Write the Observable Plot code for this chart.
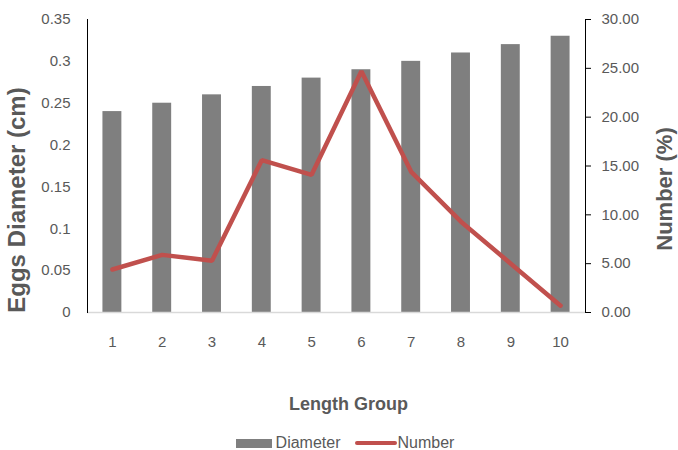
<!DOCTYPE html>
<html>
<head>
<meta charset="utf-8">
<script src="https://cdn.jsdelivr.net/npm/d3@7"></script>
<script src="https://cdn.jsdelivr.net/npm/@observablehq/plot@0.6"></script>
<style>
  body { margin: 0; background: #fff; font-family: "Liberation Sans", Arial, sans-serif; }
  #chart { position: relative; width: 678px; height: 450px; }
  #chart svg { position: absolute; left: 0; top: 0; background: transparent; overflow: visible; }
  #legend { position: absolute; left: 6px; top: 434px; width: 678px; display: flex; justify-content: center;
            align-items: center; font-size: 16px; color: #595959; }
  .sw-bar { display: inline-block; width: 36px; height: 9px; background: #7f7f7f; margin-right: 4px; }
  .sw-line { display: inline-block; width: 42px; height: 4px; background: #c0504d; border-radius: 2px; margin: 0 1px 0 14px; }
</style>
</head>
<body>
<div id="chart">
  <div id="legend"><span class="sw-bar"></span>Diameter<span class="sw-line"></span>Number</div>
</div>
<script>
// Length groups and the two measured series
const groups = [1, 2, 3, 4, 5, 6, 7, 8, 9, 10];
const diameter = [0.24, 0.25, 0.26, 0.27, 0.28, 0.29, 0.30, 0.31, 0.32, 0.33]; // cm
const number = [4.4, 5.9, 5.3, 15.6, 14.1, 24.7, 14.4, 9.3, 5.0, 0.7];      // %

// Axis ticks and titles
const leftTicks = [0, 0.05, 0.1, 0.15, 0.2, 0.25, 0.3, 0.35];
const rightTicks = [0, 5, 10, 15, 20, 25, 30];
const leftTitle = "Eggs Diameter (cm)";
const rightTitle = "Number (%)";
const xTitle = "Length Group";

const rows = groups.map((g, i) => ({group: g, diameter: diameter[i], number: number[i]}));

const titleStyle = {fill: "#595959", fontWeight: "bold", textAnchor: "middle", lineAnchor: "middle"};

// Shared frame so the two layers line up exactly
const frame = {
  width: 678, height: 425,
  marginTop: 19, marginBottom: 113, marginLeft: 87, marginRight: 93,
  style: {fontFamily: "Liberation Sans, Arial, sans-serif", fontSize: "15px", color: "#595959", background: "transparent"},
  x: {type: "band", domain: groups, paddingInner: 0.62, paddingOuter: 0.31, round: false}
};

// Bars on the left (diameter) axis
const bars = Plot.plot({
  ...frame,
  y: {domain: [0, 0.35]},
  marks: [
    Plot.barY(rows, {x: "group", y: "diameter", fill: "#7f7f7f"}),
    Plot.ruleY([0], {stroke: "#d9d9d9", strokeWidth: 1.5}),
    Plot.frame({anchor: "left", stroke: "#000"}),
    Plot.axisY({ticks: leftTicks, tickFormat: d => String(+d.toFixed(2)), tickSize: 0, tickPadding: 17, label: null}),
    Plot.axisX({tickSize: 0, tickPadding: 24, label: null}),
    Plot.text([leftTitle], {...titleStyle, frameAnchor: "left", rotate: -90, dx: -70, dy: 34, fontSize: 24}),
    Plot.text([xTitle], {...titleStyle, frameAnchor: "bottom", dx: 12, dy: 92, fontSize: 18})
  ]
});

// Line on the right (number %) axis
const line = Plot.plot({
  ...frame,
  y: {domain: [0, 30]},
  marks: [
    Plot.lineY(rows, {x: "group", y: "number", stroke: "#c0504d", strokeWidth: 4.5, strokeLinejoin: "miter"}),
    Plot.frame({anchor: "right", stroke: "#000"}),
    Plot.axisY({anchor: "right", ticks: rightTicks, tickFormat: d => d.toFixed(2), tickSize: 5, tickPadding: 11,
                stroke: "#000", label: null}),
    Plot.axisX({ticks: [], label: null}),
    Plot.text([rightTitle], {...titleStyle, frameAnchor: "right", rotate: -90, dx: 79, dy: 23, fontSize: 22})
  ]
});

const chart = document.getElementById("chart");
chart.insertBefore(bars, chart.firstChild);
chart.insertBefore(line, bars.nextSibling);
</script>
</body>
</html>
